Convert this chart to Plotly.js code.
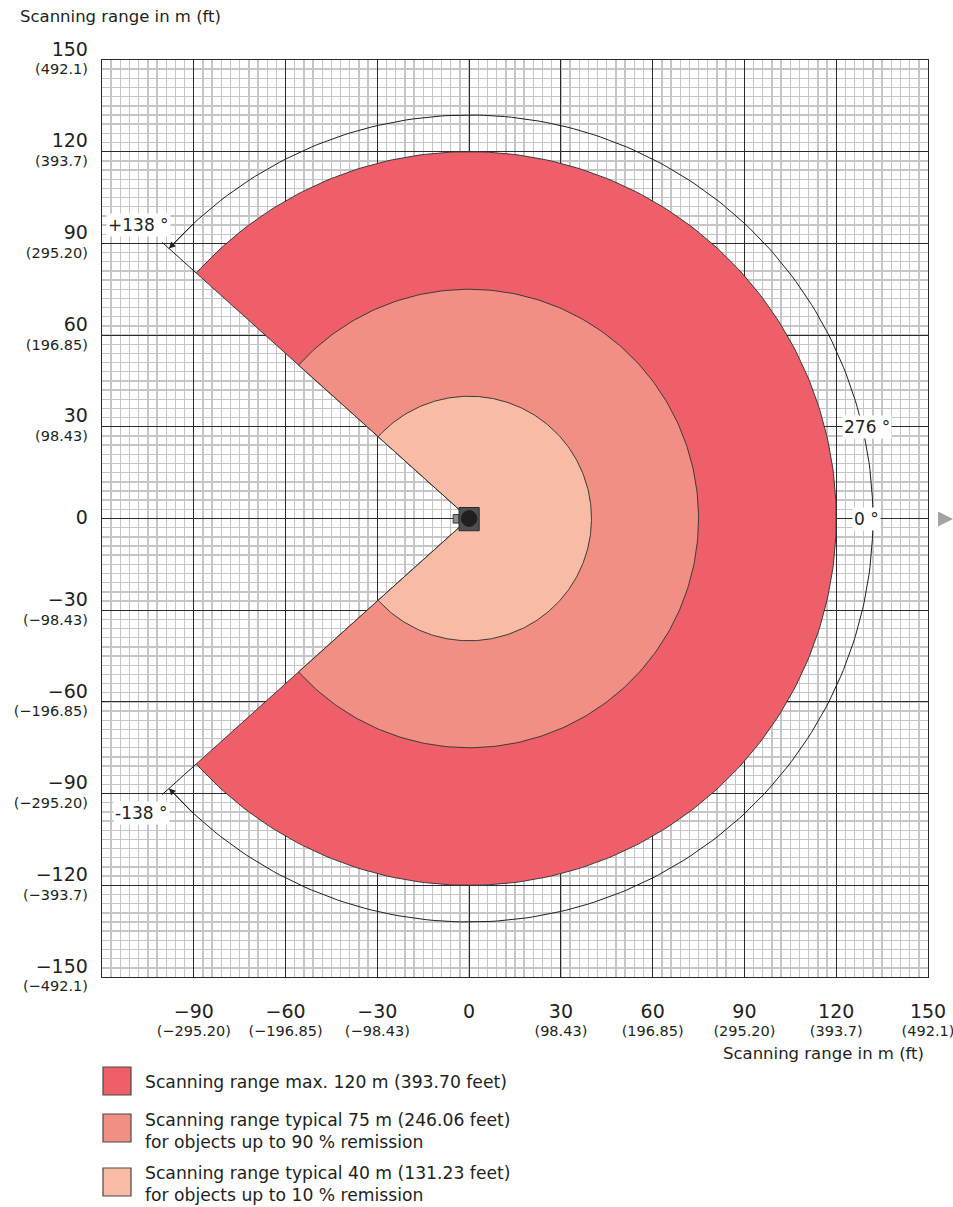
<!DOCTYPE html>
<html>
<head>
<meta charset="utf-8">
<script src="https://cdn.plot.ly/plotly-3.0.1.min.js"></script>
<style>html,body{margin:0;padding:0;background:#fff;}#chart{width:953px;height:1207px;}</style>
</head>
<body>
<div id="chart"></div>
<script>
// ---- data ----
const rangeNames = [
  "Scanning range max. 120 m (393.70 feet)",
  "Scanning range typical 75 m (246.06 feet)<br>for objects up to 90 % remission",
  "Scanning range typical 40 m (131.23 feet)<br>for objects up to 10 % remission"
];
const rangeRadii = [120, 75, 40];           // m
const rangeColors = ["#ef5f69", "#f28f84", "#f8bca6"];
const angleStart = -138;                      // degrees
const angleEnd = 138;                         // degrees
const dimRadius = 132;                        // radius of the 276° dimension arc
const extensionRadius = 135;                  // end of extension lines
const xTickVals = [-90, -60, -30, 0, 30, 60, 90, 120, 150];
const xTickMeters = ["−90", "−60", "−30", "0", "30", "60", "90", "120", "150"];
const xTickFeet = ["(−295.20)", "(−196.85)", "(−98.43)", "", "(98.43)", "(196.85)", "(295.20)", "(393.7)", "(492.1)"];
const yTickVals = [150, 120, 90, 60, 30, 0, -30, -60, -90, -120, -150];
const yTickMeters = ["150", "120", "90", "60", "30", "0", "−30", "−60", "−90", "−120", "−150"];
const yTickFeet = ["(492.1)", "(393.7)", "(295.20)", "(196.85)", "(98.43)", "", "(−98.43)", "(−196.85)", "(−295.20)", "(−393.7)", "(−492.1)"];
const angleLabels = [
  {text: "+138 °", x: -108, y: 96},
  {text: "-138 °", x: -107, y: -96.5},
  {text: "276 °", x: 130, y: 30},
  {text: "0 °", x: 130, y: 0}
];

// ---- helpers ----
const FONT = "DejaVu Sans, Verdana, sans-serif";
const TXT = "#231f20";
function rad(d){ return d*Math.PI/180; }
function arc(r, a0, a1){
  const xs=[], ys=[];
  const n = Math.round(Math.abs(a1-a0));
  for(let i=0;i<=n;i++){ const a=a0+(a1-a0)*i/n; xs.push(r*Math.cos(rad(a))); ys.push(r*Math.sin(rad(a))); }
  return {xs, ys};
}
function tickText(m, f){
  const first = "<span style='font-size:19px'>" + m + "</span>";
  return f ? first + "<br>" + f : first;
}
const PL=102, PR=928, PT=60, PB=977;
function px(xp){ return (xp-PL)/(PR-PL); }
function py(yp){ return (PB-yp)/(PB-PT); }

// ---- traces ----
const traces = [];
rangeRadii.forEach((r,i)=>{
  const a = arc(r, angleStart, angleEnd);
  traces.push({
    type:"scatter", mode:"lines", x:[0].concat(a.xs,[0]), y:[0].concat(a.ys,[0]),
    fill:"toself", fillcolor:rangeColors[i], line:{color:"#3a3a3a", width:1},
    hoverinfo:"skip", showlegend:false
  });
});
// dimension arc
const da = arc(dimRadius, angleStart, angleEnd);
traces.push({type:"scatter", mode:"lines", x:da.xs, y:da.ys, line:{color:"#231f20", width:1}, hoverinfo:"skip", showlegend:false});
// extension lines
[angleStart, angleEnd].forEach(a=>{
  traces.push({type:"scatter", mode:"lines",
    x:[rangeRadii[0]*Math.cos(rad(a)), extensionRadius*Math.cos(rad(a))],
    y:[rangeRadii[0]*Math.sin(rad(a)), extensionRadius*Math.sin(rad(a))],
    line:{color:"#231f20", width:1}, hoverinfo:"skip", showlegend:false});
});

// ---- annotations ----
const annotations = [];
// arrowheads at arc ends
[[angleEnd, angleEnd-5], [angleStart, angleStart+5]].forEach(([tip, tail])=>{
  annotations.push({x:dimRadius*Math.cos(rad(tip)), y:dimRadius*Math.sin(rad(tip)),
    ax:dimRadius*Math.cos(rad(tail)), ay:dimRadius*Math.sin(rad(tail)), axref:"x", ayref:"y",
    xref:"x", yref:"y", text:"", showarrow:true, arrowhead:2, arrowsize:1.3, arrowwidth:1, arrowcolor:"#231f20", standoff:0});
});
angleLabels.forEach(l=>{
  annotations.push({x:l.x, y:l.y, xref:"x", yref:"y", text:l.text, showarrow:false,
    font:{family:FONT, size:17, color:TXT}, bgcolor:"#ffffff", borderpad:1});
});
annotations.push({x:px(18), y:py(17), xref:"paper", yref:"paper", xanchor:"left", yanchor:"middle",
  text:"Scanning range in m (ft)", showarrow:false, font:{family:FONT, size:16.5, color:TXT}});
annotations.push({x:px(926), y:py(1053), xref:"paper", yref:"paper", xanchor:"right", yanchor:"middle",
  text:"Scanning range in m (ft)", showarrow:false, font:{family:FONT, size:16.5, color:TXT}});
// legend
const legendBoxTop = [1067, 1114, 1168];
const legendTextY = [1082, 1131, 1184];
const shapes = [];
rangeNames.forEach((n,i)=>{
  shapes.push({type:"rect", xref:"paper", yref:"paper", x0:px(103), x1:px(131), y0:py(legendBoxTop[i]), y1:py(legendBoxTop[i]+28),
    fillcolor:rangeColors[i], line:{color:"#4a4a4a", width:1.2}});
  annotations.push({x:px(143), y:py(legendTextY[i]), xref:"paper", yref:"paper", xanchor:"left", yanchor:"middle", align:"left",
    text:n, showarrow:false, font:{family:FONT, size:17.2, color:TXT}});
});
// direction marker (outside plot, paper coords)
shapes.push({type:"path", xref:"paper", yref:"paper",
  path:"M "+px(938)+" "+py(511.5)+" L "+px(953)+" "+py(519)+" L "+px(938)+" "+py(526.5)+" Z",
  fillcolor:"#a3a3a3", line:{width:0}});
// sensor icon (data units)
const sensorHalf = 3.3;
shapes.push({type:"rect", xref:"x", yref:"y", x0:-5.2, x1:-sensorHalf, y0:-1.5, y1:1.3, fillcolor:"#8a8c8e", line:{color:"#3a3a3a", width:1}});
shapes.push({type:"rect", xref:"x", yref:"y", x0:-sensorHalf, x1:sensorHalf, y0:-4.0, y1:3.6, fillcolor:"#4d5052", line:{color:"#2a2a2a", width:1}});
shapes.push({type:"circle", xref:"x", yref:"y", x0:-2.55, x1:2.55, y0:-2.6, y1:2.6, fillcolor:"#231f20", line:{color:"#231f20", width:1}});

const gridMinor = {dtick:3, tick0:0, tickmode:"linear", showgrid:true, gridcolor:"#c6c6c6", gridwidth:1.4, ticks:""};

const layout = {
  width:953, height:1207,
  margin:{l:PL, r:953-PR, t:PT, b:1207-PB},
  paper_bgcolor:"#ffffff", plot_bgcolor:"#ffffff",
  showlegend:false,
  font:{family:FONT, color:TXT},
  xaxis:{range:[-120,150], tickmode:"array", tickvals:[-120].concat(xTickVals), ticktext:[""].concat(xTickVals.map((v,i)=>tickText(xTickMeters[i], xTickFeet[i]))),
    showgrid:true, gridcolor:"#2b2b2b", gridwidth:1.1, zeroline:false, showline:true, linecolor:"#2b2b2b", linewidth:1.2, mirror:true,
    ticks:"", ticklabelstandoff:22, ticklabeloverflow:"allow", tickfont:{family:FONT, size:14.5, color:TXT}, minor:gridMinor, fixedrange:true},
  yaxis:{range:[-150,150], tickmode:"array", tickvals:yTickVals, ticktext:yTickVals.map((v,i)=>tickText(yTickMeters[i], yTickFeet[i])),
    showgrid:true, gridcolor:"#2b2b2b", gridwidth:1.1, zeroline:false, showline:true, linecolor:"#2b2b2b", linewidth:1.2, mirror:true,
    ticks:"", ticklabelstandoff:10, ticklabeloverflow:"allow", tickfont:{family:FONT, size:14.5, color:TXT}, minor:gridMinor, fixedrange:true},
  annotations, shapes
};
Plotly.newPlot("chart", traces, layout, {staticPlot:true, displayModeBar:false});
</script>
</body>
</html>
